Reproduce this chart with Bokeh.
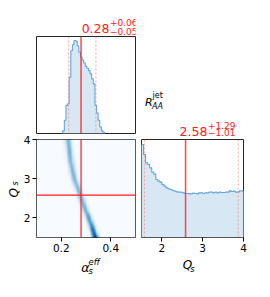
import numpy as np
from bokeh.plotting import figure
from bokeh.layouts import row, column
from bokeh.models import Range1d, Label, FixedTicker, LinearColorMapper, Span
from bokeh.palettes import Blues256
from bokeh.embed import file_html
from bokeh.resources import INLINE

# ---------------- data ----------------
alpha_range = (0.1, 0.5)
qs_range = (1.5, 4.0)
alpha_ticks = [0.2, 0.4]
qs_ticks = [2, 3, 4]

# marginal histogram of alpha_s^eff (bins from 0.206 to 0.375)
alpha_hist_lo, alpha_hist_hi = 0.206, 0.375
alpha_counts = [8, 40, 85, 90, 170, 250, 268, 281, 279, 265, 246, 231, 222,
                213, 203, 197, 190, 180, 165, 150, 85, 62, 40, 20, 8, 4]

# marginal histogram of Q_s (50 bins from 1.5 to 4.0)
qs_counts = [279, 249, 224, 219, 209, 196, 190, 174, 169, 166,
             159, 154, 149, 146, 144, 141, 139, 137, 136, 136,
             134, 132, 132, 131, 131, 133, 132, 131, 134, 134,
             132, 134, 134, 136, 136, 134, 136, 134, 136, 135,
             135, 136, 136, 140, 138, 139, 136, 137, 140, 140]

# ridge of the joint density: alpha_s^eff at the centre of each Q_s row
qs_ridge_alpha = [0.337, 0.334, 0.332, 0.329, 0.326, 0.324, 0.321, 0.318, 0.315, 0.312,
                  0.309, 0.306, 0.303, 0.300, 0.297, 0.294, 0.291, 0.288, 0.285, 0.283,
                  0.280, 0.278, 0.275, 0.272, 0.269, 0.266, 0.263, 0.260, 0.257, 0.254,
                  0.252, 0.250, 0.248, 0.246, 0.245, 0.243, 0.242, 0.241, 0.239, 0.238,
                  0.237, 0.236, 0.235, 0.234, 0.233, 0.232, 0.231, 0.230, 0.229, 0.228]
ridge_width = 0.009

alpha_median, alpha_err_lo, alpha_err_hi = 0.28, 0.05, 0.06
qs_median, qs_err_lo, qs_err_hi = 2.58, 1.01, 1.29

# ---------------- styles ----------------
FONT = "DejaVu Sans"
RED = "#ff1a1a"
HIST_LINE = "#62a6d8"
HIST_FILL = "#d8e7f4"
FRAME = "#262626"
LIFT = 2.5  # baseline correction (px)


def make_fig(w, h, l, r, t, b, xr, yr, xaxis, yaxis):
    p = figure(width=w, height=h, x_range=xr, y_range=yr, title=None,
               output_backend="svg", toolbar_location=None, tools="",
               min_border_left=l, min_border_right=r,
               min_border_top=t, min_border_bottom=b,
               x_axis_location="below" if xaxis else None,
               y_axis_location="left" if yaxis else None)
    for g in p.grid:
        g.visible = False
    p.outline_line_color = FRAME
    p.outline_line_width = 1
    p.background_fill_color = "white"
    p.border_fill_color = "white"
    for ax in p.axis:
        ax.axis_line_color = None
        ax.major_tick_out = 4
        ax.major_tick_in = 0
        ax.minor_tick_line_color = None
        ax.major_tick_line_color = "black"
        ax.major_label_text_font = FONT
        ax.major_label_text_font_size = "10.5px"
        ax.major_label_text_color = "black"
        ax.major_label_standoff = 2
    return p


def text_fig(x0, x1, y0, y1):
    """A plain text panel; x is the page pixel, y is minus the page pixel."""
    p = figure(width=x1 - x0, height=y1 - y0, title=None,
               x_range=Range1d(x0, x1), y_range=Range1d(-y1, -y0),
               output_backend="svg", toolbar_location=None, tools="",
               min_border_left=0, min_border_right=0,
               min_border_top=0, min_border_bottom=0,
               x_axis_location=None, y_axis_location=None)
    for g in p.grid:
        g.visible = False
    p.outline_line_color = None
    p.background_fill_color = "white"
    p.border_fill_color = "white"
    return p


def txt(p, x, y, s, size, color="black", italic=False, angle=0.0, align="left"):
    p.add_layout(Label(x=x, y=-y, text=s, text_font=FONT,
                       text_font_size=size, text_color=color,
                       text_font_style="italic" if italic else "normal",
                       text_align=align, text_baseline="alphabetic",
                       angle=angle))


def step_hist(p, edges, counts):
    edges = np.asarray(edges)
    counts = np.asarray(counts, dtype=float)
    xs = [edges[0]]
    ys = [0.0]
    for i, c in enumerate(counts):
        xs += [edges[i], edges[i + 1]]
        ys += [c, c]
    xs.append(edges[-1])
    ys.append(0.0)
    p.patch(xs, ys, fill_color=HIST_FILL, line_color=None)
    p.line(xs, ys, line_color=HIST_LINE, line_width=1.1)


def vline(p, loc, dashed=False, width=1.5):
    if dashed:
        p.add_layout(Span(location=loc, dimension="height", line_color="#ff7a7a",
                          line_width=0.8, line_dash="2 2", line_alpha=0.9))
    else:
        p.add_layout(Span(location=loc, dimension="height", line_color=RED,
                          line_width=width, line_alpha=0.8))


# ---------------- column A: rotated y label ----------------
t_ylab = text_fig(0, 20, 0, 281)
txt(t_ylab, 13.5, 197, "Q", "12px", italic=True, angle=np.pi / 2)
txt(t_ylab, 15.3, 185, "s", "8px", italic=True, angle=np.pi / 2)

# ---------------- column B ----------------
t_atitle = text_fig(20, 138, 0, 35)
txt(t_atitle, 107, 30.5 - LIFT, f"{alpha_median:.2f}", "12.5px", RED, align="right")
txt(t_atitle, 107.5, 24.5 - LIFT, f"+{alpha_err_hi:.2f}", "9px", RED)
txt(t_atitle, 107.5, 33 - LIFT, f"\u2212{alpha_err_lo:.2f}", "9px", RED)

alpha_edges = np.linspace(alpha_hist_lo, alpha_hist_hi, len(alpha_counts) + 1)
p_a = make_fig(118, 99, 13, 3, 1, 1, Range1d(*alpha_range), Range1d(0, 293), False, False)
step_hist(p_a, alpha_edges, alpha_counts)
vline(p_a, alpha_median - alpha_err_lo, dashed=True)
vline(p_a, alpha_median + alpha_err_hi, dashed=True)
vline(p_a, alpha_median)

n_acol = 120
a_centres = np.linspace(alpha_range[0], alpha_range[1], n_acol, endpoint=False) + \
    (alpha_range[1] - alpha_range[0]) / n_acol / 2
ridge = np.asarray(qs_ridge_alpha)[:, None]
dens = np.asarray(qs_counts, dtype=float)[:, None] * \
    np.exp(-0.5 * ((a_centres[None, :] - ridge) / ridge_width) ** 2)
mapper = LinearColorMapper(palette=list(reversed(Blues256)), low=0, high=float(dens.max()) * 1.05)

p_j = make_fig(118, 123, 13, 3, 5, 20, Range1d(*alpha_range), Range1d(*qs_range), True, True)
p_j.image(image=[dens], x=alpha_range[0], y=qs_range[0],
          dw=alpha_range[1] - alpha_range[0], dh=qs_range[1] - qs_range[0],
          color_mapper=mapper)
p_j.add_layout(Span(location=alpha_median, dimension="height", line_color=RED, line_width=1.2))
p_j.add_layout(Span(location=qs_median, dimension="width", line_color=RED, line_width=1.2))
p_j.xaxis.ticker = FixedTicker(ticks=alpha_ticks)
p_j.yaxis.ticker = FixedTicker(ticks=qs_ticks)

t_axlab = text_fig(20, 138, 257, 281)
txt(t_axlab, 73.3, 269.5 - LIFT, "\u03b1", "12.5px", italic=True)
txt(t_axlab, 82, 272.5 - LIFT, "s", "8.5px", italic=True)
txt(t_axlab, 82, 264 - LIFT, "eff", "8.5px", italic=True)

# ---------------- column C ----------------
t_right = text_fig(138, 254, 0, 138)
txt(t_right, 142, 102, "R", "11px", italic=True)
txt(t_right, 150, 105.5, "AA", "8px", italic=True)
txt(t_right, 150.5, 94.5, "jet", "8px")
txt(t_right, 213, 130.5, f"{qs_median:.2f}", "12.5px", RED, align="right")
txt(t_right, 213.5, 125.2, f"+{qs_err_hi:.2f}", "9px", RED)
txt(t_right, 213.5, 132.4, f"\u2212{qs_err_lo:.2f}", "9px", RED)

qs_edges = np.linspace(qs_range[0], qs_range[1], len(qs_counts) + 1)
p_q = make_fig(116, 119, 3, 11, 1, 20, Range1d(*qs_range), Range1d(0, 294), True, False)
step_hist(p_q, qs_edges, qs_counts)
vline(p_q, qs_median - qs_err_lo, dashed=True)
vline(p_q, qs_median + qs_err_hi, dashed=True)
vline(p_q, qs_median)
p_q.xaxis.ticker = FixedTicker(ticks=qs_ticks)

t_qlab = text_fig(138, 254, 257, 281)
txt(t_qlab, 185, 267 - LIFT, "Q", "12px", italic=True)
txt(t_qlab, 193.5, 271 - LIFT, "s", "8.5px", italic=True)

layout = row(t_ylab,
             column(t_atitle, p_a, p_j, t_axlab),
             column(t_right, p_q, t_qlab))
open("out.html", "w").write(file_html(layout, INLINE))
